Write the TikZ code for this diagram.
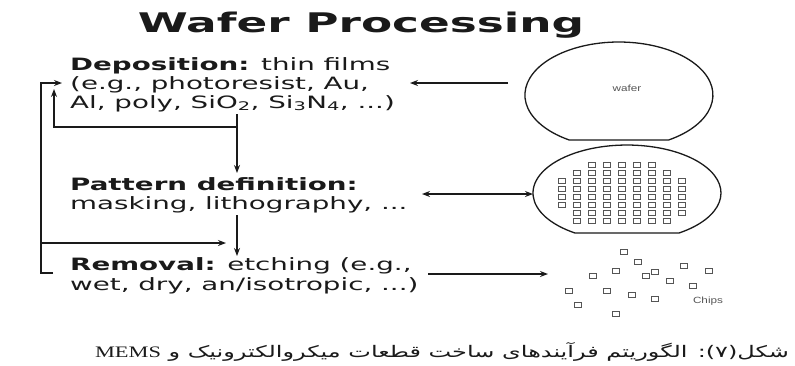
\documentclass[tikz,border=0pt]{standalone}
\usepackage{fontspec}
\usetikzlibrary{arrows.meta}
\setmainfont{DejaVu Sans}[FakeStretch=1.63]
\newfontfamily\titlefont{DejaVu Sans}[FakeStretch=1.68]
\newfontfamily\labelfont{Liberation Sans}[FakeStretch=1.3]
\newfontfamily\arabicfont[Script=Arabic,FakeStretch=1.5]{DejaVu Sans}
\newfontfamily\memsfont{Liberation Serif}[FakeStretch=1.4]
\TeXXeTstate=1
\definecolor{ink}{HTML}{1A1A1A}
\definecolor{faint}{HTML}{555555}
\tikzset{
  txt/.style={anchor=base west, inner sep=0pt, text=ink, font=\fontsize{17}{19}\selectfont},
  loopline/.style={draw=ink, line width=1.8pt},
  tip/.style={-{Stealth[length=8pt,width=6pt]}},
  arr/.style={draw=ink, line width=1.3pt, tip},
  darr/.style={draw=ink, line width=1.3pt, {Stealth[length=8pt,width=6pt]}-{Stealth[length=8pt,width=6pt]}},
  waferline/.style={draw=ink, line width=1.3pt},
  chip/.style={draw=faint, line width=0.7pt},
  smalllabel/.style={inner sep=0pt, text=faint, font=\labelfont\fontsize{9}{10}\selectfont}
}
\begin{document}
\begin{tikzpicture}[x=1pt, y=-1pt]
\useasboundingbox (0,0) rectangle (795,365);
\fill[white] (0,0) rectangle (795,365);

% title
\node[anchor=base, inner sep=0pt, text=ink, font=\titlefont\fontsize{27}{30}\selectfont\bfseries] (title) at (361,32) {Wafer Processing};

% text blocks
\node[txt] (dep1) at (70,70) {{\bfseries Deposition:} thin films};
\node[txt] (dep2) at (70,89) {(e.g., photoresist, Au,};
\node[txt] (dep3) at (70,108) {Al, poly, SiO\textsubscript{2}, Si\textsubscript{3}N\textsubscript{4}, ...)};
\node[txt] (pat1) at (70,190) {\bfseries Pattern definition:};
\node[txt] (pat2) at (70,209) {masking, lithography, ...};
\node[txt] (rem1) at (70,270) {{\bfseries Removal:} etching (e.g.,};
\node[txt] (rem2) at (70,290) {wet, dry, an/isotropic, ...)};

% flow coordinates
\coordinate (d1s) at (237,114);
\coordinate (d1e) at (237,173);
\coordinate (d2s) at (237,215);
\coordinate (d2e) at (237,256);
\coordinate (ilC) at (237,127);
\coordinate (ilA) at (54,127);
\coordinate (ilB) at (54,89);
\coordinate (olT) at (41,83);
\coordinate (olTe) at (62,83);
\coordinate (olB) at (41,273);
\coordinate (olBe) at (53,273);
\coordinate (brS) at (41,243);
\coordinate (brE) at (226,243);

\draw[arr] (d1s) -- (d1e);
\draw[arr] (d2s) -- (d2e);
\draw[loopline, tip] (ilC) -- (ilA) -- (ilB);
\draw[loopline, tip] (olBe) -- (olB) -- (olT) -- (olTe);
\draw[arr] (brS) -- (brE);

% wafer (top)
\coordinate (wafL) at (508,83);
\coordinate (depR) at (410,83);
\draw[waferline] (668.6,140) arc[start angle=-58.1, end angle=238.1, x radius=94pt, y radius=53pt] -- cycle;
\node[smalllabel] (waferlbl) at (627,88) {wafer};
\draw[arr] (wafL) -- (depR);

% patterned wafer
\draw[waferline] (679,233) arc[start angle=-56.4, end angle=236.4, x radius=94pt, y radius=48pt] -- cycle;
\coordinate (patL) at (533,194);
\coordinate (patT) at (422,194);
\draw[darr] (patT) -- (patL);
\foreach \r/\a/\b in {165/3/7, 173/2/8, 181/1/9, 189/1/9, 197/1/9, 205/1/9, 213/2/9, 221/2/8}{
  \foreach \c in {\a,...,\b}{
    \draw[chip] ({562+15*(\c-1)-3.5}, {\r-2.5}) rectangle +(7,5);
  }
}

% chips
\coordinate (chS) at (428,274);
\coordinate (chE) at (548,274);
\draw[arr] (chS) -- (chE);
\foreach \x/\y in {624/276, 638/285, 684/289, 709/293, 593/298, 616/293, 646/298, 655/294, 670/302, 693/307, 569/311, 607/311, 632/315, 655/319, 578/324, 616/332}{
  \draw[chip] (\x-3.5,{252+1.1*(\y-276)-2.5}) rectangle +(7,5);
}
\node[smalllabel] (chipslbl) at (708,301) {Chips};

% caption
\node[anchor=base, inner sep=0pt, text=ink, font=\arabicfont\fontsize{16}{18}\selectfont] (caption) at (442,357) {\beginR شکل(۷): الگوریتم فرآیندهای ساخت قطعات میکروالکترونیک و \beginL{\memsfont MEMS}\endL\endR};
\end{tikzpicture}
\end{document}
